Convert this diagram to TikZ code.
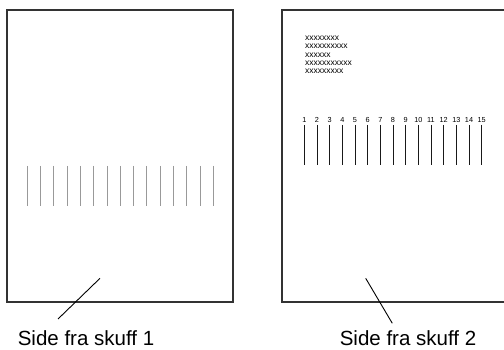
\documentclass[tikz,border=0pt]{standalone}
\usepackage{fontspec}
\setmainfont{Liberation Sans}
\usetikzlibrary{positioning}
\tikzstyle{page-box} = [draw=black!80, line width=1.4pt, rectangle,
    minimum width=226pt, minimum height=292pt, inner sep=0pt]
\tikzstyle{page-caption} = [font=\fontsize{20.5}{24}\selectfont, anchor=base, inner sep=0pt]
\tikzstyle{leader} = [draw=black, line width=0.9pt]
\tikzstyle{col-mark} = [line width=0.8pt]
\tikzstyle{col-num} = [font=\fontsize{7.3}{8}\selectfont, inner sep=0pt]
\tikzstyle{dummy-text} = [font=\fontsize{8.5}{8.3}\selectfont, align=left,
    anchor=north west, inner sep=0pt]

\begin{document}
\begin{tikzpicture}[x=1pt, y=-1pt]
\useasboundingbox (0,0) rectangle (504,350);
\clip (0,0) rectangle (504,350);
% left page, tray 1
\node [page-box] (page1) at (120,156) {};
\foreach \i in {0,...,14}
    \draw [col-mark, black!40] (27.3+13.28*\i,166) -- (27.3+13.28*\i,205.7);
\coordinate (tip1) at (100,278.3);
\coordinate (foot1) at (58,319);
\draw [leader] (tip1) -- (foot1);
\node [page-caption] (cap1) at (86,345.5) {Side fra skuff 1};
% right page, tray 2
\node [page-box] (page2) at (395,156) {};
\node [dummy-text] (txt2) at (305,36) {xxxxxxxx\\xxxxxxxxxx\\xxxxxx\\xxxxxxxxxxx\\xxxxxxxxx};
\foreach \i in {1,...,15}{
    \node [col-num] (num\i) at (304.3+12.67*\i-12.67,120) {\i};
    \draw [col-mark, black!90] (304.3+12.67*\i-12.67,125) -- (304.3+12.67*\i-12.67,165);
}
\coordinate (tip2) at (365.7,278.3);
\coordinate (foot2) at (392.3,323.3);
\draw [leader] (tip2) -- (foot2);
\node [page-caption] (cap2) at (408,345.5) {Side fra skuff 2};
\end{tikzpicture}
\end{document}
